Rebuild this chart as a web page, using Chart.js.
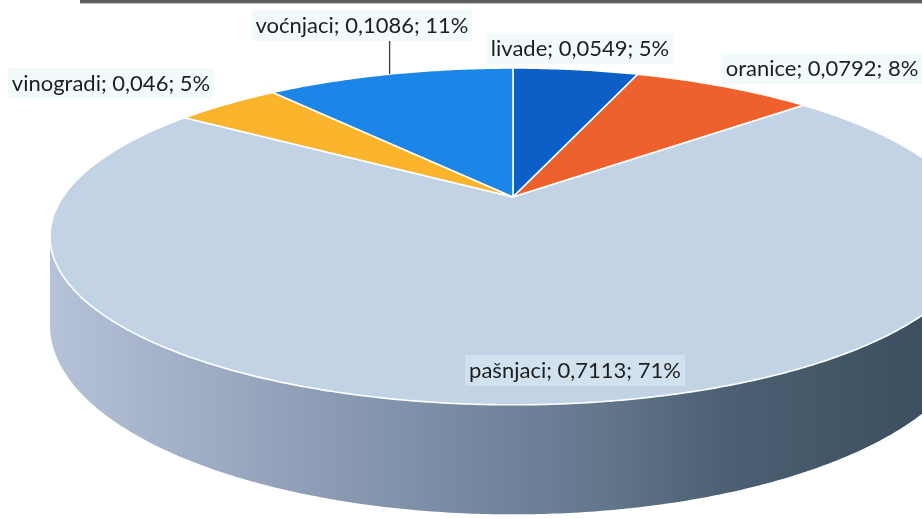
<!DOCTYPE html>
<html>
<head>
<meta charset="utf-8">
<script src="https://cdn.jsdelivr.net/npm/chart.js@4.4.0/dist/chart.umd.min.js"></script>
<style>
  html, body { margin: 0; padding: 0; background: #fff; }
  #wrap { width: 922px; height: 519px; }
</style>
</head>
<body>
<div id="wrap"><canvas id="pieChart" width="922" height="519"></canvas></div>
<script>
// data
const categories = ['livade', 'oranice', 'pašnjaci', 'vinogradi', 'voćnjaci'];
const shares = [0.0549, 0.0792, 0.7113, 0.046, 0.1086];

// styles
const sliceColors = ['#0b5fc7', '#ee602c', '#c3d3e6', '#fcb42c', '#1c86e8'];
const labelCenters = [[580, 48], [822, 68], [575, 370], [111, 83], [362, 25]];
const labelLeader = [false, false, false, false, true];

// perspective of the excel 3d pie, as ratios of the chart radius
const persp = { k: 0.234, sx: 2.285, sy: 0.808, depth: 0.426 };

function fmtLabel(i) {
    const total = shares.reduce((a, b) => a + b, 0);
    const pct = Math.round(shares[i] / total * 100);
    return categories[i] + '; ' + String(shares[i]).replace('.', ',') + '; ' + pct + '%';
}

function geom(chart) {
    const arcs = chart.getDatasetMeta(0).data;
    const a0 = arcs[0];
    const r = a0.outerRadius;
    const g = {
        arcs: arcs, cx: a0.x, cy: a0.y,
        A: r * persp.sx, B: r * persp.sy, H: r * persp.depth, k: persp.k
    };
    // t measured clockwise from 12 o'clock
    g.pt = function (t, h) {
        const u = Math.sin(t), v = Math.cos(t), d = 1 + g.k * v;
        return [g.cx + g.A * u / d, g.cy - g.B * v / d + h * g.H / d];
    };
    return g;
}

const pie3d = {
    id: 'pie3d',
    beforeDatasetsDraw(chart) {
        const ctx = chart.ctx;
        const g = geom(chart);
        const step = Math.PI / 360;

        // outer side wall, only the part facing the viewer
        const tA = Math.acos(-g.k), tB = 2 * Math.PI - tA;
        const sideGrad = ctx.createLinearGradient(g.cx - g.A * 1.03, 0, g.cx + g.A * 1.03, 0);
        sideGrad.addColorStop(0, '#b6c2d8');
        sideGrad.addColorStop(0.09, '#a9b6cd');
        sideGrad.addColorStop(0.39, '#7f90a9');
        sideGrad.addColorStop(0.6, '#62768c');
        sideGrad.addColorStop(0.73, '#4c6073');
        sideGrad.addColorStop(0.92, '#3e5162');
        sideGrad.addColorStop(1, '#3a4b5a');

        g.arcs.forEach(function (arc) {
            const t1 = arc.startAngle + Math.PI / 2, t2 = arc.endAngle + Math.PI / 2;
            const s = Math.max(t1, tA), e = Math.min(t2, tB);
            if (s >= e) return;
            ctx.beginPath();
            for (let t = s; t <= e; t += step) ctx.lineTo(...g.pt(t, 0));
            ctx.lineTo(...g.pt(e, 0));
            for (let t = e; t >= s; t -= step) ctx.lineTo(...g.pt(t, 1));
            ctx.lineTo(...g.pt(s, 1));
            ctx.closePath();
            ctx.fillStyle = sideGrad;
            ctx.fill();
        });

        // top faces
        g.arcs.forEach(function (arc) {
            const t1 = arc.startAngle + Math.PI / 2, t2 = arc.endAngle + Math.PI / 2;
            ctx.beginPath();
            ctx.moveTo(g.cx, g.cy);
            for (let t = t1; t <= t2; t += step) ctx.lineTo(...g.pt(t, 0));
            ctx.lineTo(...g.pt(t2, 0));
            ctx.closePath();
            ctx.fillStyle = arc.options.backgroundColor;
            ctx.fill();
            ctx.lineWidth = 1.6;
            ctx.lineJoin = 'round';
            ctx.strokeStyle = '#ffffff';
            ctx.stroke();
        });
        return false;
    },
    afterDraw(chart) {
        const ctx = chart.ctx;
        const g = geom(chart);

        // scanned frame line at the top
        ctx.fillStyle = '#5d5d5d';
        ctx.fillRect(80, 0, 842, 3);
        ctx.fillStyle = '#c4c4c4';
        ctx.fillRect(80, 3, 842, 1);

        ctx.font = '22px Lato';
        ctx.textBaseline = 'middle';
        ctx.textAlign = 'center';
        g.arcs.forEach(function (arc, i) {
            const txt = fmtLabel(i);
            const [x, y] = labelCenters[i];
            const w = ctx.measureText(txt).width;
            ctx.fillStyle = 'rgba(226,243,248,0.45)';
            ctx.fillRect(x - w / 2 - 4, y - 15, w + 8, 31);
            if (labelLeader[i]) {
                const mid = (arc.startAngle + arc.endAngle) / 2 + Math.PI / 2;
                const p = g.pt(mid, 0);
                ctx.beginPath();
                ctx.moveTo(p[0], y + 16);
                ctx.lineTo(p[0], p[1]);
                ctx.strokeStyle = '#3a3a3a';
                ctx.lineWidth = 1.3;
                ctx.stroke();
            }
            ctx.fillStyle = '#1e1e1e';
            ctx.fillText(txt, x, y + 1);
        });
    }
};

new Chart(document.getElementById('pieChart').getContext('2d'), {
    type: 'pie',
    data: {
        labels: categories,
        datasets: [{
            data: shares,
            backgroundColor: sliceColors,
            borderWidth: 0
        }]
    },
    options: {
        responsive: false,
        animation: false,
        layout: { padding: { left: 104, right: 0, top: 0, bottom: 125 } },
        plugins: {
            legend: { display: false },
            tooltip: { enabled: false }
        }
    },
    plugins: [pie3d]
});
</script>
</body>
</html>
